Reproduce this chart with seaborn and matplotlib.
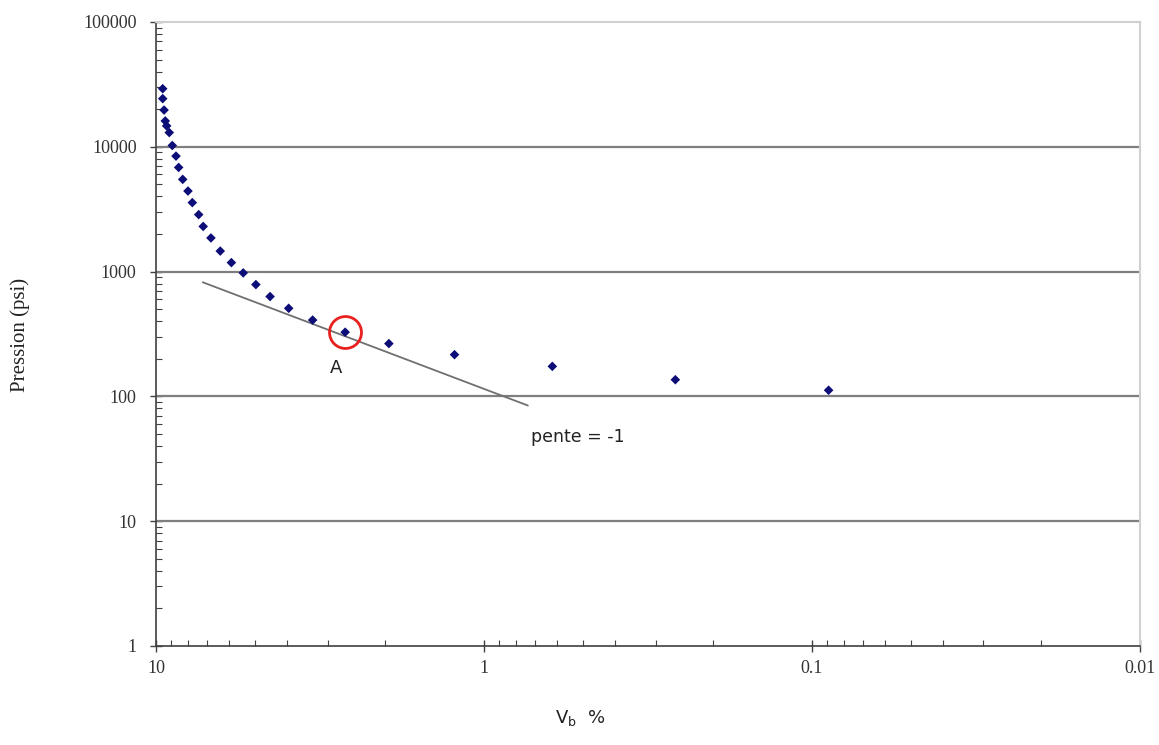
import numpy as np
import pandas as pd
import seaborn as sns
import matplotlib.pyplot as plt
from matplotlib.ticker import LogLocator, FixedLocator, FixedFormatter, NullFormatter

# Data
vb = [9.54, 9.54, 9.45, 9.37, 9.28, 9.11, 8.92, 8.69, 8.53, 8.29, 7.99, 7.75,
      7.41, 7.18, 6.80, 6.37, 5.89, 5.42, 4.96, 4.49, 3.94, 3.33, 2.65, 1.95,
      1.23, 0.619, 0.261, 0.089]
pression = [29200, 24300, 19700, 16100, 14700, 13000, 10240, 8420, 6830, 5480,
            4420, 3570, 2860, 2300, 1860, 1460, 1180, 976, 787, 631, 508, 409,
            327, 265, 216, 174, 136, 112]
df = pd.DataFrame({'Vb': vb, 'P': pression})

# slope line and point A
slope_x = [7.2, 0.735]
slope_y = [821, 84.5]
point_a = (2.65, 327)

sns.set_style('white')
plt.rcParams['font.family'] = ['DejaVu Sans']

fig = plt.figure(figsize=(11.59, 7.45), dpi=100)
ax = fig.add_axes([0.1346, 0.1329, 0.849, 0.8376])

ax.set_xscale('log')
ax.set_yscale('log')
ax.set_xlim(10, 0.01)
ax.set_ylim(1, 100000)

# grid lines at major y ticks
for yv in [10, 100, 1000, 10000]:
    ax.axhline(yv, color='#7f7f7f', lw=1.6, zorder=1)

ax.plot(slope_x, slope_y, color='#707070', lw=1.3, zorder=2)

sns.scatterplot(data=df, x='Vb', y='P', marker='D', s=24, color='#0d0d78',
                edgecolor='none', ax=ax, zorder=3)

ax.plot([point_a[0]], [point_a[1]], marker='o', ms=23, mfc='none',
        mec='#e8201e', mew=2.0, zorder=4)

ax.text(2.83, 170, 'A', fontsize=13, ha='center', va='center', color='#222222')
ax.text(0.72, 47, 'pente = -1', fontsize=12.5, ha='left', va='center', color='#222222')

# spines
for s in ['top', 'right']:
    ax.spines[s].set_color('#d0d0d0')
    ax.spines[s].set_linewidth(1.5)
for s in ['left', 'bottom']:
    ax.spines[s].set_color('#404040')
    ax.spines[s].set_linewidth(1.2)

xt = [10, 1, 0.1, 0.01]
ax.xaxis.set_major_locator(FixedLocator(xt))
ax.xaxis.set_major_formatter(FixedFormatter(['10', '1', '0.1', '0.01']))
yt = [1, 10, 100, 1000, 10000, 100000]
ax.yaxis.set_major_locator(FixedLocator(yt))
ax.yaxis.set_major_formatter(FixedFormatter([str(v) for v in yt]))
ax.xaxis.set_minor_locator(LogLocator(base=10, subs=np.arange(2, 10), numticks=20))
ax.yaxis.set_minor_locator(LogLocator(base=10, subs=np.arange(2, 10), numticks=20))
ax.xaxis.set_minor_formatter(NullFormatter())
ax.yaxis.set_minor_formatter(NullFormatter())

ax.tick_params(axis='both', which='major', direction='inout', length=8, width=1,
               color='#404040', labelsize=13, labelcolor='#333333',
               bottom=True, left=True)
ax.tick_params(axis='both', which='minor', direction='in', length=4, width=0.8,
               color='#404040', bottom=True, left=True)
for lab in ax.get_xticklabels() + ax.get_yticklabels():
    lab.set_fontfamily('Liberation Serif')
ax.tick_params(axis='x', pad=6)
ax.tick_params(axis='y', pad=10)

ax.set_xlabel('')
ax.set_ylabel('')
fig.text(580 / 1159, 1 - 718 / 745, r'V$_\mathregular{b}$  %', fontsize=13,
         ha='center', va='center', color='#222222')
fig.text(20 / 1159, 1 - 335 / 745, 'Pression (psi)', fontsize=15,
         family='Liberation Serif', rotation=90, ha='center', va='center',
         color='#222222')

fig.savefig('out.png', dpi=100, facecolor='white')
